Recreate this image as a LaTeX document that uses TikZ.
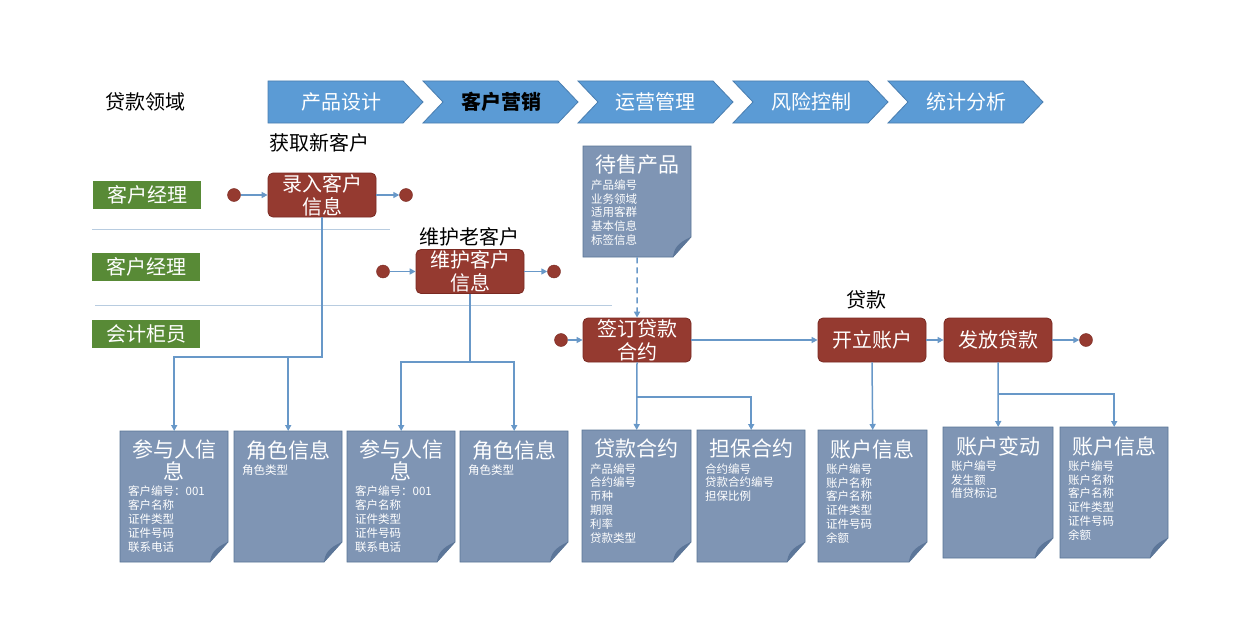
\documentclass[tikz,border=0pt]{standalone}
\usepackage{fontspec}
\setmainfont{Noto Sans CJK SC}
\usetikzlibrary{arrows.meta,calc,positioning}

\definecolor{stageblue}{HTML}{5B9BD5}
\definecolor{stageedge}{HTML}{4A7EB0}
\definecolor{lanegreen}{HTML}{588A36}
\definecolor{taskred}{HTML}{953A30}
\definecolor{taskedge}{HTML}{7A2A22}
\definecolor{flowblue}{HTML}{6898C8}
\definecolor{sepline}{HTML}{B8CCE0}
\definecolor{docfill}{HTML}{7F95B4}
\definecolor{docedge}{HTML}{5A7596}
\definecolor{docfoldc}{HTML}{5C7699}

\newcommand{\bigfont}{\fontsize{20}{23}\selectfont}

\tikzset{
  stage/.style={fill=stageblue, draw=stageedge, line width=0.8pt},
  stagetext/.style={text=white, font=\bigfont},
  plain/.style={text=black, font=\bigfont},
  lane/.style={fill=lanegreen, text=white, minimum width=108pt, minimum height=28pt, inner sep=0pt, font=\bigfont},
  lanesep/.style={draw=sepline, line width=1pt},
  task/.style={rounded corners=5pt, fill=taskred, draw=taskedge, line width=0.8pt, text=white,
    minimum width=108pt, minimum height=44pt, inner sep=0pt, align=center, font=\bigfont},
  enddot/.style={circle, fill=taskred, draw=taskedge, minimum size=13pt, inner sep=0pt},
  flow/.style={draw=flowblue, line width=1.5pt, -{Triangle[length=6pt,width=6pt]}},
  docbody/.style={fill=docfill, draw=docedge, line width=0.8pt},
  docfold/.style={fill=docfoldc},
  doctitle/.style={text=white, font=\fontsize{21}{22}\selectfont, align=center, inner sep=0pt},
  docitems/.style={text=white, font=\fontsize{11.5}{13.8}\selectfont, align=left, inner sep=0pt}
}

% document page: name, left, top, right, bottom, title, items
\newcommand{\docpage}[7]{%
  \filldraw[docbody] (#2,#3) -- (#4,#3) -- (#4,#5-20) -- (#4-18,#5) -- (#2,#5) -- cycle;
  \fill[docfold] (#4-18,#5) .. controls (#4-17,#5-8) and (#4-14,#5-14) .. (#4,#5-20) -- cycle;
  \node[inner sep=0pt, minimum width=#4-#2, minimum height=#5-#3, anchor=north west] (#1) at (#2,#3) {};
  \node[doctitle, below=9pt of #1.north] (#1-title) {#6};
  \node[docitems, anchor=north west] (#1-items) at ($(#1-title.south -| #1.west)+(8,4.4)$) {#7};
}

\begin{document}
\begin{tikzpicture}[x=1pt, y=-1pt]
\fill[white] (0,0) rectangle (1253,618);
\useasboundingbox (0,0) rectangle (1253,618);

% Stages
\filldraw[stage] (268,81) -- (403,81) -- (423,102) -- (403,123) -- (268,123) -- cycle;
\foreach \x in {423,578,733,888}
  \filldraw[stage] (\x,81) -- (\x+135,81) -- (\x+155,102) -- (\x+135,123) -- (\x,123) -- (\x+20,102) -- cycle;
\node[plain] (domain) at (145,102) {贷款领域};
\node[stagetext] (s1) at (341,102) {产品设计};
\node[stagetext, text=black, font=\bfseries\bigfont] (s2) at (501,102) {客户营销};
\node[stagetext] (s3) at (655,102) {运营管理};
\node[stagetext] (s4) at (811,102) {风险控制};
\node[stagetext] (s5) at (966,102) {统计分析};

% Lanes
\node[lane] (mgr1) at (147,195) {客户经理};
\node[lane] (mgr2) at (146,267) {客户经理};
\node[lane] (teller) at (146,334) {会计柜员};
\draw[lanesep] (92,229) -- (390,229);
\draw[lanesep] (95,305) -- (612,305);

% Tasks
\node[plain] (newcust) at (319,143) {获取新客户};
\node[plain] (oldcust) at (469,237) {维护老客户};
\node[plain] (loan) at (866,300) {贷款};
\node[task] (lr) at (322,195) {录入客户\\信息};
\node[task] (wh) at (470,271.5) {维护客户\\信息};
\node[task] (qd) at (637,340) {签订贷款\\合约};
\node[task] (kl) at (872,340) {开立账户};
\node[task] (ff) at (998,340) {发放贷款};
\node[enddot] (lrin) at (234,195) {};
\node[enddot] (lrout) at (406,195) {};
\node[enddot] (whin) at (383,271.5) {};
\node[enddot] (whout) at (554,271.5) {};
\node[enddot] (qdin) at (561,340) {};
\node[enddot] (ffout) at (1086,340) {};
\draw[flow] (lrin) -- (lr);
\draw[flow] (lr) -- (lrout);
\draw[flow] (whin) -- (wh);
\draw[flow] (wh) -- (whout);
\draw[flow] (qdin) -- (qd);
\draw[flow] (qd) -- (kl);
\draw[flow] (kl) -- (ff);
\draw[flow] (ff) -- (ffout);

% Documents
\docpage{sale}{583}{146}{691}{257}{待售产品}{产品编号\\业务领域\\适用客群\\基本信息\\标签信息}
\docpage{pin1}{120}{431}{228}{562}{参与人信\\息}{客户编号：001\\客户名称\\证件类型\\证件号码\\联系电话}
\docpage{role1}{234}{431}{342}{562}{角色信息}{角色类型}
\docpage{pin2}{347}{431}{455}{562}{参与人信\\息}{客户编号：001\\客户名称\\证件类型\\证件号码\\联系电话}
\docpage{role2}{460}{431}{568}{562}{角色信息}{角色类型}
\docpage{loanc}{582}{430}{691}{562}{贷款合约}{产品编号\\合约编号\\币种\\期限\\利率\\贷款类型}
\docpage{guar}{697}{430}{805}{562}{担保合约}{合约编号\\贷款合约编号\\担保比例}
\docpage{acct1}{818}{430}{927}{562}{账户信息}{账户编号\\账户名称\\客户名称\\证件类型\\证件号码\\余额}
\docpage{chg}{943}{427}{1053}{558}{账户变动}{账户编号\\发生额\\借贷标记}
\docpage{acct2}{1060}{427}{1168}{558}{账户信息}{账户编号\\账户名称\\客户名称\\证件类型\\证件号码\\余额}

% Links to documents
\draw[flow, dash pattern=on 6pt off 4pt] (sale) -- (qd);
\draw[flow] (lr.south) -- (lr.south |- 0,357) -| (pin1.north);
\draw[flow] (lr.south |- 0,357) -| (role1.north);
\draw[flow] (wh.south) -- (wh.south |- 0,362) -| (pin2.north);
\draw[flow] (wh.south |- 0,362) -| (role2.north);
\draw[flow] (qd.south) -- (loanc.north);
\draw[flow] (qd.south |- 0,397) -| (guar.north);
\draw[flow] (kl.south) -- (acct1.north);
\draw[flow] (ff.south) -- (chg.north);
\draw[flow] (ff.south |- 0,394) -| (acct2.north);
\end{tikzpicture}
\end{document}
